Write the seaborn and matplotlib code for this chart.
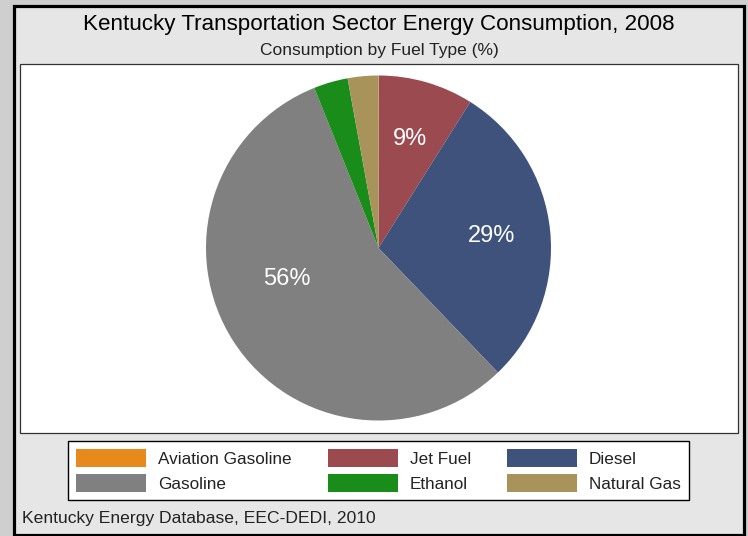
import matplotlib
matplotlib.use("Agg")
import matplotlib.pyplot as plt
from matplotlib.patches import Rectangle
import seaborn as sns

# Transportation fuel shares, Kentucky 2008 (percent of total)
fuels = ["Aviation Gasoline", "Jet Fuel", "Diesel", "Gasoline", "Ethanol", "Natural Gas"]
shares = [0.03, 8.9, 28.9, 56.1, 3.2, 2.87]
fuel_colors = ["#E8891C", "#9B4A50", "#3E527C", "#808080", "#1A8C1A", "#A8945A"]

title = "Kentucky Transportation Sector Energy Consumption, 2008"
subtitle = "Consumption by Fuel Type (%)"
source = "Kentucky Energy Database, EEC-DEDI, 2010"

sns.set_style("white")
plt.rcParams["font.family"] = ["Liberation Sans", "DejaVu Sans"]

W, H = 748, 536
fig = plt.figure(figsize=(W / 100, H / 100), dpi=100)
fig.patch.set_facecolor("#cfcfcf")


def px_rect(x0, y0, x1, y1):
    """Rectangle given in pixel coords measured from the top-left corner."""
    return (x0 / W, 1 - y1 / H), (x1 - x0) / W, (y1 - y0) / H


# outer panel with heavy black frame
xy, w, h = px_rect(14, 5.5, 743.5, 534.5)
fig.patches.append(Rectangle(xy, w, h, transform=fig.transFigure,
                             facecolor="#e6e6e6", edgecolor="black", linewidth=2.3, zorder=-3))
# white plotting region
xy, w, h = px_rect(19.5, 63.5, 738, 432.5)
fig.patches.append(Rectangle(xy, w, h, transform=fig.transFigure,
                             facecolor="white", edgecolor="#333333", linewidth=0.9, zorder=-2))

fig.text(379 / W, 1 - 24.5 / H, title, ha="center", va="center", fontsize=16.1, color="black")
fig.text(379 / W, 1 - 51 / H, subtitle, ha="center", va="center", fontsize=12.5, color="#222222")
fig.text(22 / W, 1 - 518.5 / H, source, ha="left", va="center", fontsize=12.6, color="#222222")

# pie axes
cx, cy, r = 378.5, 248, 172.5
ax = fig.add_axes([(cx - r) / W, 1 - (cy + r) / H, 2 * r / W, 2 * r / H])
wedges, texts, autotexts = ax.pie(
    shares, colors=fuel_colors, startangle=90, counterclock=False,
    autopct=lambda p: f"{p:.0f}%" if p >= 5 else "", pctdistance=0.66,
    wedgeprops=dict(linewidth=0), textprops=dict(color="white", fontsize=17),
)
# the large gasoline label sits a little higher inside its wedge
autotexts[3].set_position((-0.53, -0.18))
ax.set_xlim(-1, 1)
ax.set_ylim(-1, 1)
ax.set_aspect("equal")
ax.axis("off")

# legend: three columns filled row by row
order = [0, 3, 1, 4, 2, 5]
leg = fig.legend(
    [wedges[i] for i in order], [fuels[i] for i in order],
    ncol=3, loc="center", bbox_to_anchor=(378.5 / W, 1 - 470.5 / H),
    fontsize=12.3, frameon=True, fancybox=False, edgecolor="black",
    facecolor="white", framealpha=1,
    handlelength=4.1, handleheight=1.25, handletextpad=0.7, columnspacing=2.1,
    labelspacing=0.38, borderpad=0.5,
)
leg.get_frame().set_linewidth(1.0)
for t in leg.get_texts():
    t.set_color("#222222")

fig.savefig("out.png", dpi=100, facecolor=fig.get_facecolor())
